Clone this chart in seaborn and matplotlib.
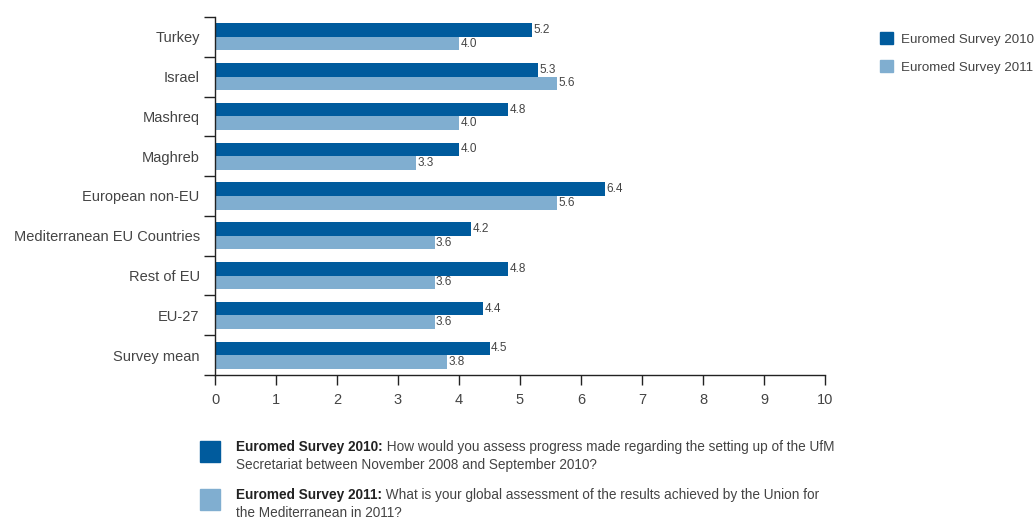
import matplotlib
matplotlib.use("Agg")
import matplotlib.pyplot as plt
from matplotlib.patches import Rectangle
import seaborn as sns
import pandas as pd

regions = ["Turkey", "Israel", "Mashreq", "Maghreb", "European non-EU",
           "Mediterranean EU Countries", "Rest of EU", "EU-27", "Survey mean"]
survey_2010 = [5.2, 5.3, 4.8, 4.0, 6.4, 4.2, 4.8, 4.4, 4.5]
survey_2011 = [4.0, 5.6, 4.0, 3.3, 5.6, 3.6, 3.6, 3.6, 3.8]
series_names = ["Euromed Survey 2010", "Euromed Survey 2011"]
x_ticks = list(range(0, 11))

note_titles = ["Euromed Survey 2010:", "Euromed Survey 2011:"]
note_texts = [
    [" How would you assess progress made regarding the setting up of the UfM",
     "Secretariat between November 2008 and September 2010?"],
    [" What is your global assessment of the results achieved by the Union for",
     "the Mediterranean in 2011?"],
]

dark_blue = "#005b9d"
light_blue = "#80aed0"
text_col = "#444444"

df = pd.DataFrame({
    "region": regions * 2,
    "value": survey_2010 + survey_2011,
    "series": [series_names[0]] * len(regions) + [series_names[1]] * len(regions),
})

sns.set_style("white")
plt.rcParams["font.family"] = ["Liberation Sans", "DejaVu Sans"]

W, H = 1035, 522
fig = plt.figure(figsize=(W / 100, H / 100), dpi=100)
ax = fig.add_axes([215 / W, 1 - 375 / H, 610 / W, 358 / H])

sns.barplot(data=df, y="region", x="value", hue="series", orient="h",
            palette=[dark_blue, light_blue], width=0.68, ax=ax,
            saturation=1, legend=False, linewidth=0)

ax.set_xlim(0, 10)
ax.set_ylim(len(regions) - 0.5, -0.5)
ax.set_xticks(x_ticks)
ax.set_xticklabels([str(t) for t in x_ticks], fontsize=10.5, color=text_col)
ax.set_yticks(range(len(regions)))
ax.set_yticklabels(regions, fontsize=10.5, color=text_col)
ax.tick_params(axis="y", length=0, pad=11)
ax.set_yticks([i - 0.5 for i in range(len(regions) + 1)], minor=True)
ax.tick_params(axis="y", which="minor", length=8, width=1, color="#222222", left=True)
ax.tick_params(axis="x", length=7, width=1, color="#222222", pad=6, bottom=True, direction="out")
ax.set_xlabel("")
ax.set_ylabel("")
for s in ["top", "right"]:
    ax.spines[s].set_visible(False)
for s in ["left", "bottom"]:
    ax.spines[s].set_color("#222222")
    ax.spines[s].set_linewidth(1)

# value labels at the end of each bar
for container, vals in zip(ax.containers, [survey_2010, survey_2011]):
    ax.bar_label(container, labels=[f"{v:.1f}" for v in vals], padding=1,
                 fontsize=8.5, color=text_col)

# legend at the upper right
handles = [Rectangle((0, 0), 1, 1, color=c) for c in (dark_blue, light_blue)]
fig.legend(handles, series_names, loc="upper left",
           bbox_to_anchor=(868 / W, 1 - 20 / H), frameon=False,
           handlelength=1.0, handleheight=1.0, handletextpad=0.6,
           labelspacing=1.1, fontsize=9.6, labelcolor=text_col)

# question notes below the chart
fig.canvas.draw()
renderer = fig.canvas.get_renderer()
for i, (title, lines, col) in enumerate(zip(note_titles, note_texts, [dark_blue, light_blue])):
    top = 441 + i * 48
    fig.patches.append(Rectangle((200 / W, 1 - (top + 21) / H), 20 / W, 21 / H,
                                 transform=fig.transFigure, color=col, figure=fig))
    y1 = 1 - (top + 6) / H
    t = fig.text(236 / W, y1, title, fontsize=9.8, fontweight="bold",
                 color="#222222", va="center", ha="left")
    bb = t.get_window_extent(renderer)
    fig.text(bb.x1 / W, y1, lines[0], fontsize=9.8, color=text_col,
             va="center", ha="left")
    fig.text(236 / W, 1 - (top + 24) / H, lines[1], fontsize=9.8,
             color=text_col, va="center", ha="left")

fig.savefig("out.png", dpi=100)
